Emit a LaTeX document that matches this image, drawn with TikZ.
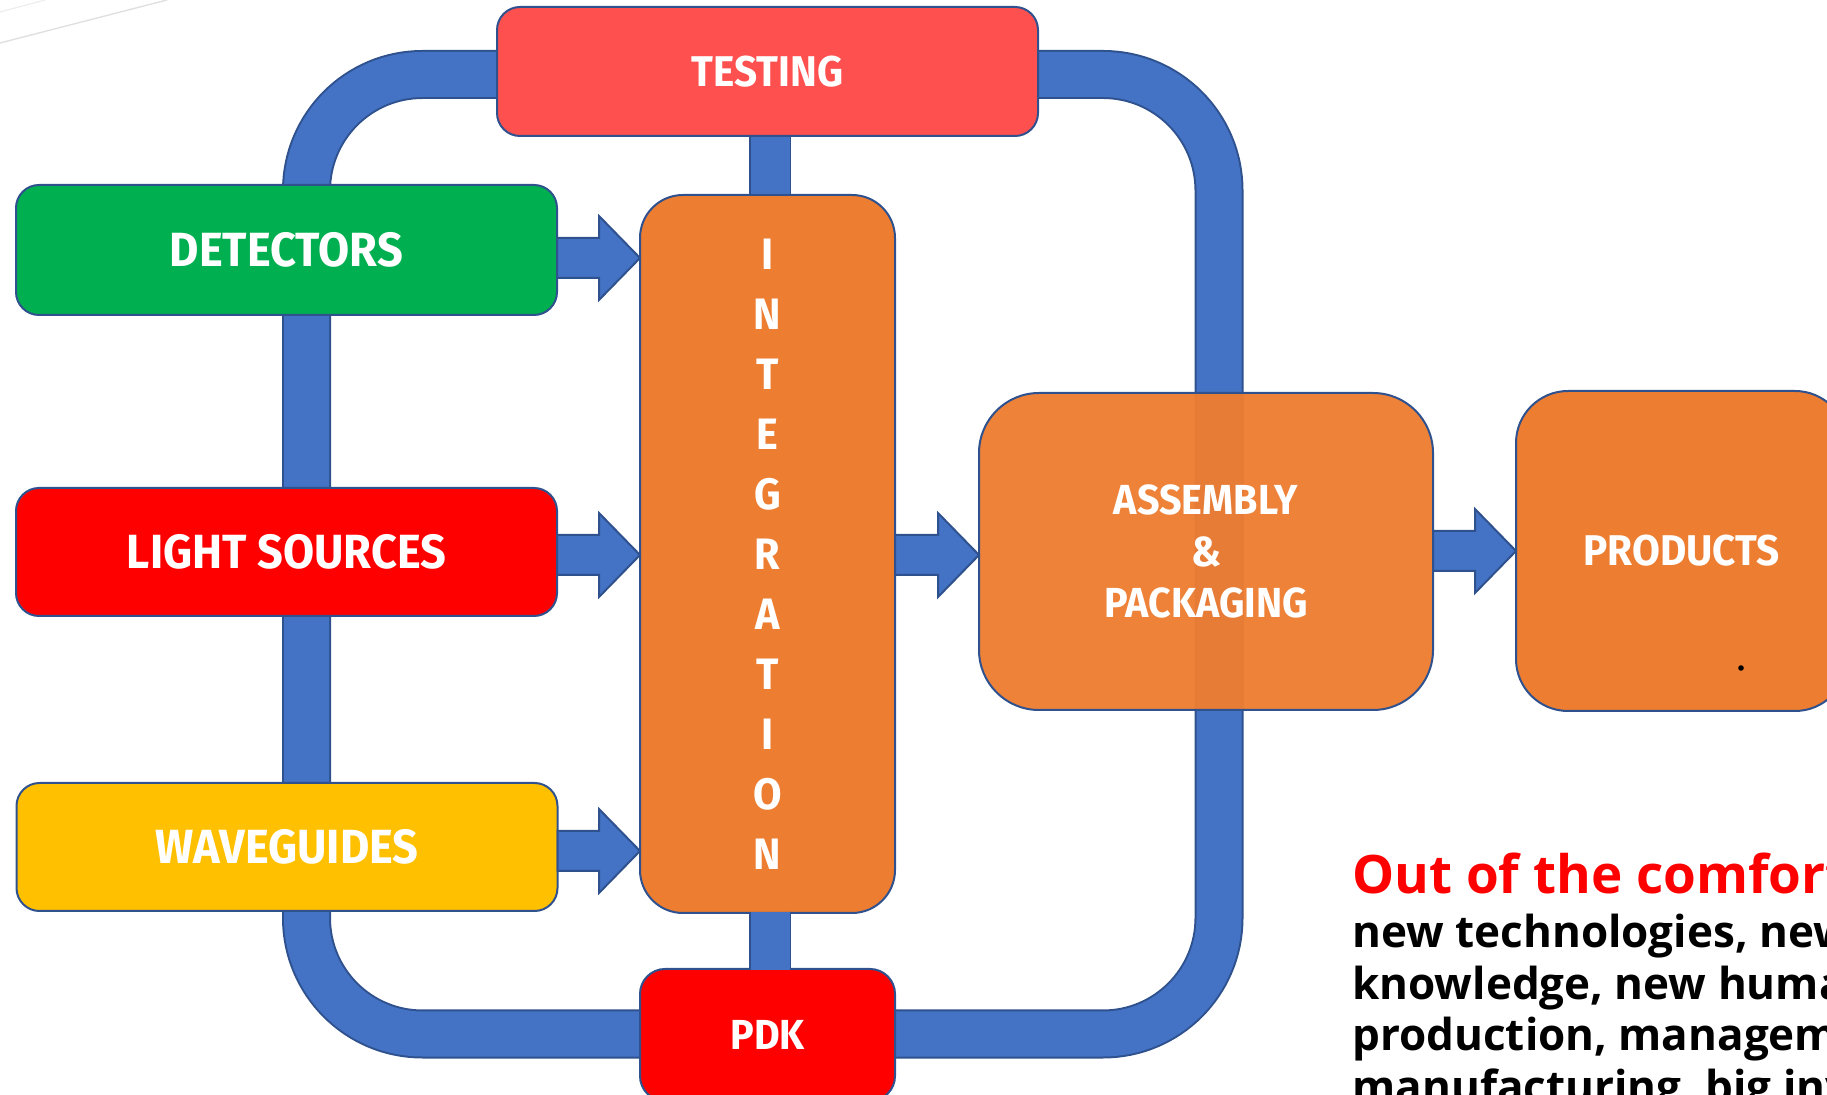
\documentclass[tikz,border=0pt]{standalone}
\usepackage{fontspec}
\setmainfont{Open Sans}
\newfontfamily\lblfont[FakeStretch=0.94]{Fira Sans}
\usetikzlibrary{calc}
\definecolor{ringblue}{HTML}{4472C4}
\definecolor{edgeblue}{HTML}{2F528F}
\definecolor{orangebox}{HTML}{ED7D31}
\definecolor{greenbox}{HTML}{00B050}
\definecolor{redbox}{HTML}{FF0000}
\definecolor{testred}{HTML}{FF5050}
\definecolor{yellowbox}{HTML}{FFC000}
\newcommand\barrow[2]{\filldraw[arr] ($(#1)+(0,-20)$) -- ($(#2)+(-41,-20)$) -- ($(#2)+(-41,-42)$) -- (#2) -- ($(#2)+(-41,42)$) -- ($(#2)+(-41,20)$) -- ($(#1)+(0,20)$) -- cycle;}
\begin{document}
\begin{tikzpicture}[x=0.5pt,y=-0.5pt,
  box/.style={draw=edgeblue, line width=1pt, rounded corners=11.5pt, inner sep=0pt, outer sep=0pt,
    text=white, font=\lblfont\bfseries\fontsize{21.5}{25}\selectfont, align=center},
  sidebox/.style={box, minimum width=270.5pt, font=\lblfont\bfseries\fontsize{24}{28}\selectfont},
  ringedge/.style={draw=edgeblue, line width=24.5pt, rounded corners=58pt},
  ringfill/.style={draw=ringblue, line width=22.5pt, rounded corners=58pt},
  linkedge/.style={draw=edgeblue, line width=21pt},
  linkfill/.style={draw=ringblue, line width=19.5pt},
  arr/.style={fill=ringblue, draw=edgeblue, line width=1pt, line join=miter},
  redtext/.style={anchor=base west, inner sep=0pt, text=red, font=\bfseries\fontsize{26.5}{30}\selectfont},
  blacktext/.style={anchor=base west, inner sep=0pt, text=black, font=\bfseries\fontsize{22}{26}\selectfont}]
\useasboundingbox (0,0) rectangle (1827,1095);
\clip (0,0) rectangle (1827,1095);
% faint background lines
\draw[black!12, line width=0.7pt] (0,43) -- (167,0);
\draw[black!7, line width=0.6pt] (0,12) -- (45,0);
% ring
\coordinate (ringNW) at (306.5,74.5);
\coordinate (ringSE) at (1219,1034);
\draw[ringedge] (ringNW) rectangle (ringSE);
\draw[ringfill] (ringNW) rectangle (ringSE);
% central column
\node[box, fill=testred, minimum width=270.5pt, minimum height=64.5pt] (testing) at (767.5,71.5) {TESTING};
\node[box, fill=orangebox, rounded corners=21.5pt, minimum width=127.5pt, minimum height=359pt,
      font=\lblfont\bfseries\fontsize{22}{30}\selectfont] (integ) at (767.5,554)
      {I\\N\\T\\E\\G\\R\\A\\T\\I\\O\\N};
\node[box, fill=redbox, rounded corners=12.5pt, minimum width=127.5pt, minimum height=66pt,
      font=\lblfont\bfseries\fontsize{21}{25}\selectfont] (pdk) at (767.5,1035) {PDK};
% vertical links
\draw[linkedge] ([xshift=1.25pt]testing.south) -- ([xshift=1.25pt]integ.north);
\draw[linkfill] ([xshift=1.25pt,yshift=-0.5pt]testing.south) -- ([xshift=1.25pt,yshift=0.5pt]integ.north);
\draw[linkedge] ([xshift=1.25pt]integ.south) -- ([xshift=1.25pt]pdk.north);
\draw[linkfill] ([xshift=1.25pt,yshift=0.5pt]integ.south) -- ([xshift=1.25pt,yshift=-0.5pt]pdk.north);
% left boxes
\node[sidebox, fill=greenbox, minimum height=65pt] (det) at (286.5,250) {DETECTORS};
\node[sidebox, fill=redbox, minimum height=64pt] (light) at (286.5,552) {LIGHT SOURCES};
\node[sidebox, fill=yellowbox, minimum height=64pt] (wave) at (287,847) {WAVEGUIDES};
% right boxes
\node[box, fill=orangebox, fill opacity=0.96, text opacity=1, rounded corners=30pt, minimum width=227pt, minimum height=158.5pt,
      font=\lblfont\bfseries\fontsize{21}{25.75}\selectfont] (asm) at (1206,551.5) {ASSEMBLY\\\&\\PACKAGING};
\node[box, fill=orangebox, rounded corners=26pt, minimum width=165.5pt, minimum height=160pt] (prod) at (1681.5,551) {PRODUCTS};
\node[circle, fill=black, inner sep=0pt, minimum size=2.8pt] (dot) at (1741,668) {};
% arrows
\coordinate (s1) at ([yshift=-4pt]det.east);
\coordinate (t1) at (integ.west |- s1);
\coordinate (s2) at ([yshift=-1.5pt]light.east);
\coordinate (t2) at (integ.west |- s2);
\coordinate (s3) at ([yshift=-2pt]wave.east);
\coordinate (t3) at (integ.west |- s3);
\coordinate (s4) at (integ.east |- s2);
\coordinate (t4) at (asm.west |- s2);
\coordinate (s5) at (asm.east |- prod.west);
\coordinate (t5) at (prod.west);
\barrow{s1}{t1}
\barrow{s2}{t2}
\barrow{s3}{t3}
\barrow{s4}{t4}
\barrow{s5}{t5}
% text block
\node[redtext] (head) at (1352,894) {Out of the comfort zone};
\node[blacktext] (l1) at (1352,948) {new technologies, new};
\node[blacktext] (l2) at (1352,1000) {knowledge, new human};
\node[blacktext] (l3) at (1352,1051) {production, management,};
\node[blacktext] (l4) at (1352,1102) {manufacturing, big investment};
\end{tikzpicture}
\end{document}
